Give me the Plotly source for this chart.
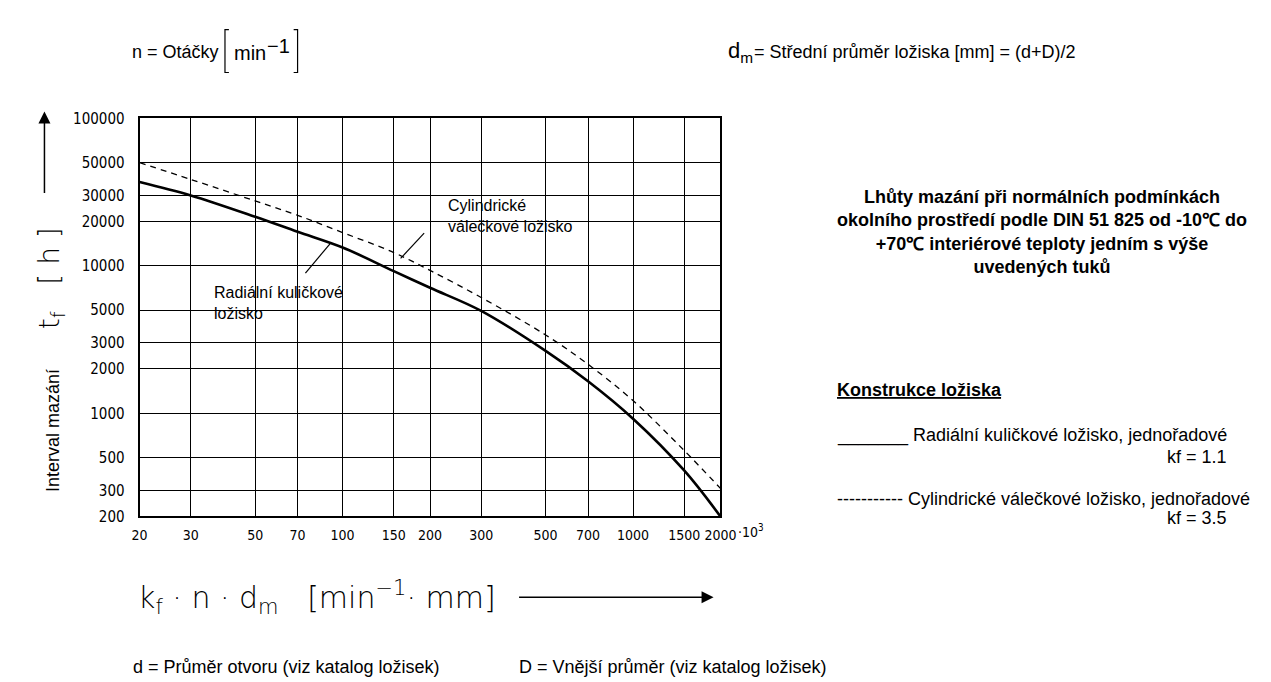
import math
import plotly.graph_objects as go

W, H = 1271, 682

# ---- data ----
x_ticks = [20, 30, 50, 70, 100, 150, 200, 300, 500, 700, 1000, 1500, 2000]
x_ticktext = ["20", "30", "50", "70", "100", "150", "200", "300", "500", "700", "1000", "1500", "2000"]
x_unit_suffix = "·10<sup>3</sup>"
y_ticks = [200, 300, 500, 1000, 2000, 3000, 5000, 10000, 20000, 30000, 50000, 100000]
y_ticktext = ["200", "300", "500", "1000", "2000", "3000", "5000", "10000", "20000", "30000", "50000", "100000"]

speed_x = [20, 30, 50, 70, 100, 150, 200, 300, 500, 700, 1000, 1500, 2000]
ball_bearing_y = [37000, 30000, 21500, 17000, 13300, 9200, 7100, 4950, 2650, 1650, 920, 410, 200]
roller_bearing_y = [50000, 38500, 27500, 22000, 16800, 12300, 9300, 6100, 3400, 2150, 1220, 560, 310]

ball_label = "Radiální kuličkové<br>ložisko"
roller_label = "Cylindrické<br>válečkové ložisko"

# ---- layout helpers (pixel -> paper) ----
PL, PR, PT, PB = 126, 718, 104, 513


def px(x):
    return x / W


def py(y):
    return 1 - y / H


TXT = "Arial, Liberation Sans, sans-serif"
TICK = "DejaVu Sans Condensed, Arial, Liberation Sans, sans-serif"
THIN = "DejaVu Sans"

fig = go.Figure()

fig.add_trace(go.Scatter(
    x=speed_x, y=roller_bearing_y, mode="lines", line_shape="spline",
    line=dict(color="black", width=1.3, dash="6px,5px"),
    name="Cylindrické válečkové ložisko", showlegend=False, hoverinfo="skip"))
fig.add_trace(go.Scatter(
    x=speed_x, y=ball_bearing_y, mode="lines", line_shape="spline",
    line=dict(color="black", width=2.6),
    name="Radiální kuličkové ložisko", showlegend=False, hoverinfo="skip"))

axis_common = dict(
    type="log", showgrid=True, gridcolor="black", gridwidth=1.3,
    showline=True, linecolor="black", linewidth=2, mirror=True,
    zeroline=False, ticks="", tickangle=0,
)

fig.update_layout(
    width=W, height=H,
    margin=dict(l=0, r=0, t=0, b=0),
    paper_bgcolor="white", plot_bgcolor="white",
    xaxis=dict(domain=[px(PL), px(PR)], range=[math.log10(20), math.log10(2000)],
               tickvals=x_ticks, ticktext=x_ticktext, ticklabelstandoff=5,
               tickfont=dict(family=TICK, size=14, color="black"), **axis_common),
    yaxis=dict(domain=[py(PB), py(PT)], range=[math.log10(200), math.log10(100000)],
               tickvals=y_ticks, ticktext=y_ticktext, ticklabelstandoff=10,
               tickfont=dict(family=TICK, size=15, color="black"), **axis_common),
    showlegend=False,
)

shapes = []
# white label boxes (cover gridlines, below traces)
shapes.append(dict(type="rect", xref="paper", yref="paper", layer="between",
                   x0=px(425), x1=px(600), y0=py(248), y1=py(186),
                   fillcolor="white", line=dict(width=0)))
shapes.append(dict(type="rect", xref="paper", yref="paper", layer="between",
                   x0=px(178), x1=px(350), y0=py(335), y1=py(265),
                   fillcolor="white", line=dict(width=0)))
# leader lines
shapes.append(dict(type="line", xref="paper", yref="paper",
                   x0=px(295), y0=py(263), x1=px(320), y1=py(233),
                   line=dict(color="black", width=1.2)))
shapes.append(dict(type="line", xref="paper", yref="paper",
                   x0=px(392), y0=py(248), x1=px(416), y1=py(222),
                   line=dict(color="black", width=1.2)))
# brackets around min^-1
for xb, d in ((213, 1), (287, -1)):
    shapes.append(dict(type="path", xref="paper", yref="paper",
                       path=f"M {px(xb + 4*d)},{py(13)} L {px(xb)},{py(13)} L {px(xb)},{py(57)} L {px(xb + 4*d)},{py(57)}",
                       line=dict(color="black", width=1.2)))
fig.update_layout(shapes=shapes)

ann = []


def text(x, y, s, size=18, family=TXT, xanchor="left", yanchor="middle", align="left", weight=None, **kw):
    f = dict(family=family, size=size, color="black")
    if weight is not None:
        f["weight"] = weight
    ann.append(dict(x=px(x), y=py(y), xref="paper", yref="paper", text=s, showarrow=False,
                    xanchor=xanchor, yanchor=yanchor, align=align, font=f, **kw))


# curve labels
text(438, 204, roller_label, size=16)
text(200, 294, ball_label, size=16)

# header
text(116, 36, "n = Otáčky", size=18)
text(220, 37, "min", size=20)
text(254, 30, "−1", size=20)
text(724, 36, "d<sub>m</sub>", size=22)
text(750, 36, "= Střední průměr ložiska [mm] = (d+D)/2", size=18)

# right block title
text(1046, 221, "<b>Lhůty mazání při normálních podmínkách<br>okolního prostředí podle DIN 51 825 od -10℃ do<br>"
     "+70℃ interiérové teploty jedním s výše<br>uvedených tuků</b>", size=18, xanchor="center", align="center")

text(835, 383, "<b><u>Konstrukce ložiska</u></b>", size=18)
text(835, 430, "_______ Radiální kuličkové ložisko, jednořadové", size=18)
text(1236, 452, "kf = 1.1", size=18, xanchor="right")
text(835, 495, "----------- Cylindrické válečkové ložisko, jednořadové", size=18)
text(1236, 515, "kf = 3.5", size=18, xanchor="right")

# footer
text(117, 668, "d = Průměr otvoru (viz katalog ložisek)", size=18)
text(511, 668, "D = Vnější průměr (viz katalog ložisek)", size=18)

# unit suffix after the last x tick label
text(734, 528, x_unit_suffix, size=14, family=TICK)

# axis titles (thin)
text(122, 596, "k<sub>f</sub> · n · d<sub>m</sub>   [min<sup>−1</sup>· mm]", size=30, family=THIN, weight=200)
ann.append(dict(x=px(37), y=py(268), xref="paper", yref="paper", textangle=-90,
                text="t<sub>f</sub>   [ h ]", showarrow=False, xanchor="center", yanchor="middle",
                font=dict(family=THIN, size=28, color="black", weight=200)))
ann.append(dict(x=px(38), y=py(425), xref="paper", yref="paper", textangle=-90,
                text="Interval mazání", showarrow=False, xanchor="center", yanchor="middle",
                font=dict(family=TXT, size=18, color="black")))

# arrows
ann.append(dict(x=px(711), y=py(596), ax=515 - 711, ay=0, xref="paper", yref="paper",
                axref="pixel", ayref="pixel", text="", showarrow=True,
                arrowhead=2, arrowsize=1.6, arrowwidth=1.5, arrowcolor="black"))
ann.append(dict(x=px(29), y=py(97), ax=0, ay=180 - 97, xref="paper", yref="paper",
                axref="pixel", ayref="pixel", text="", showarrow=True,
                arrowhead=2, arrowsize=1.6, arrowwidth=1.5, arrowcolor="black"))

fig.update_layout(annotations=ann)
fig.write_html("out.html")
